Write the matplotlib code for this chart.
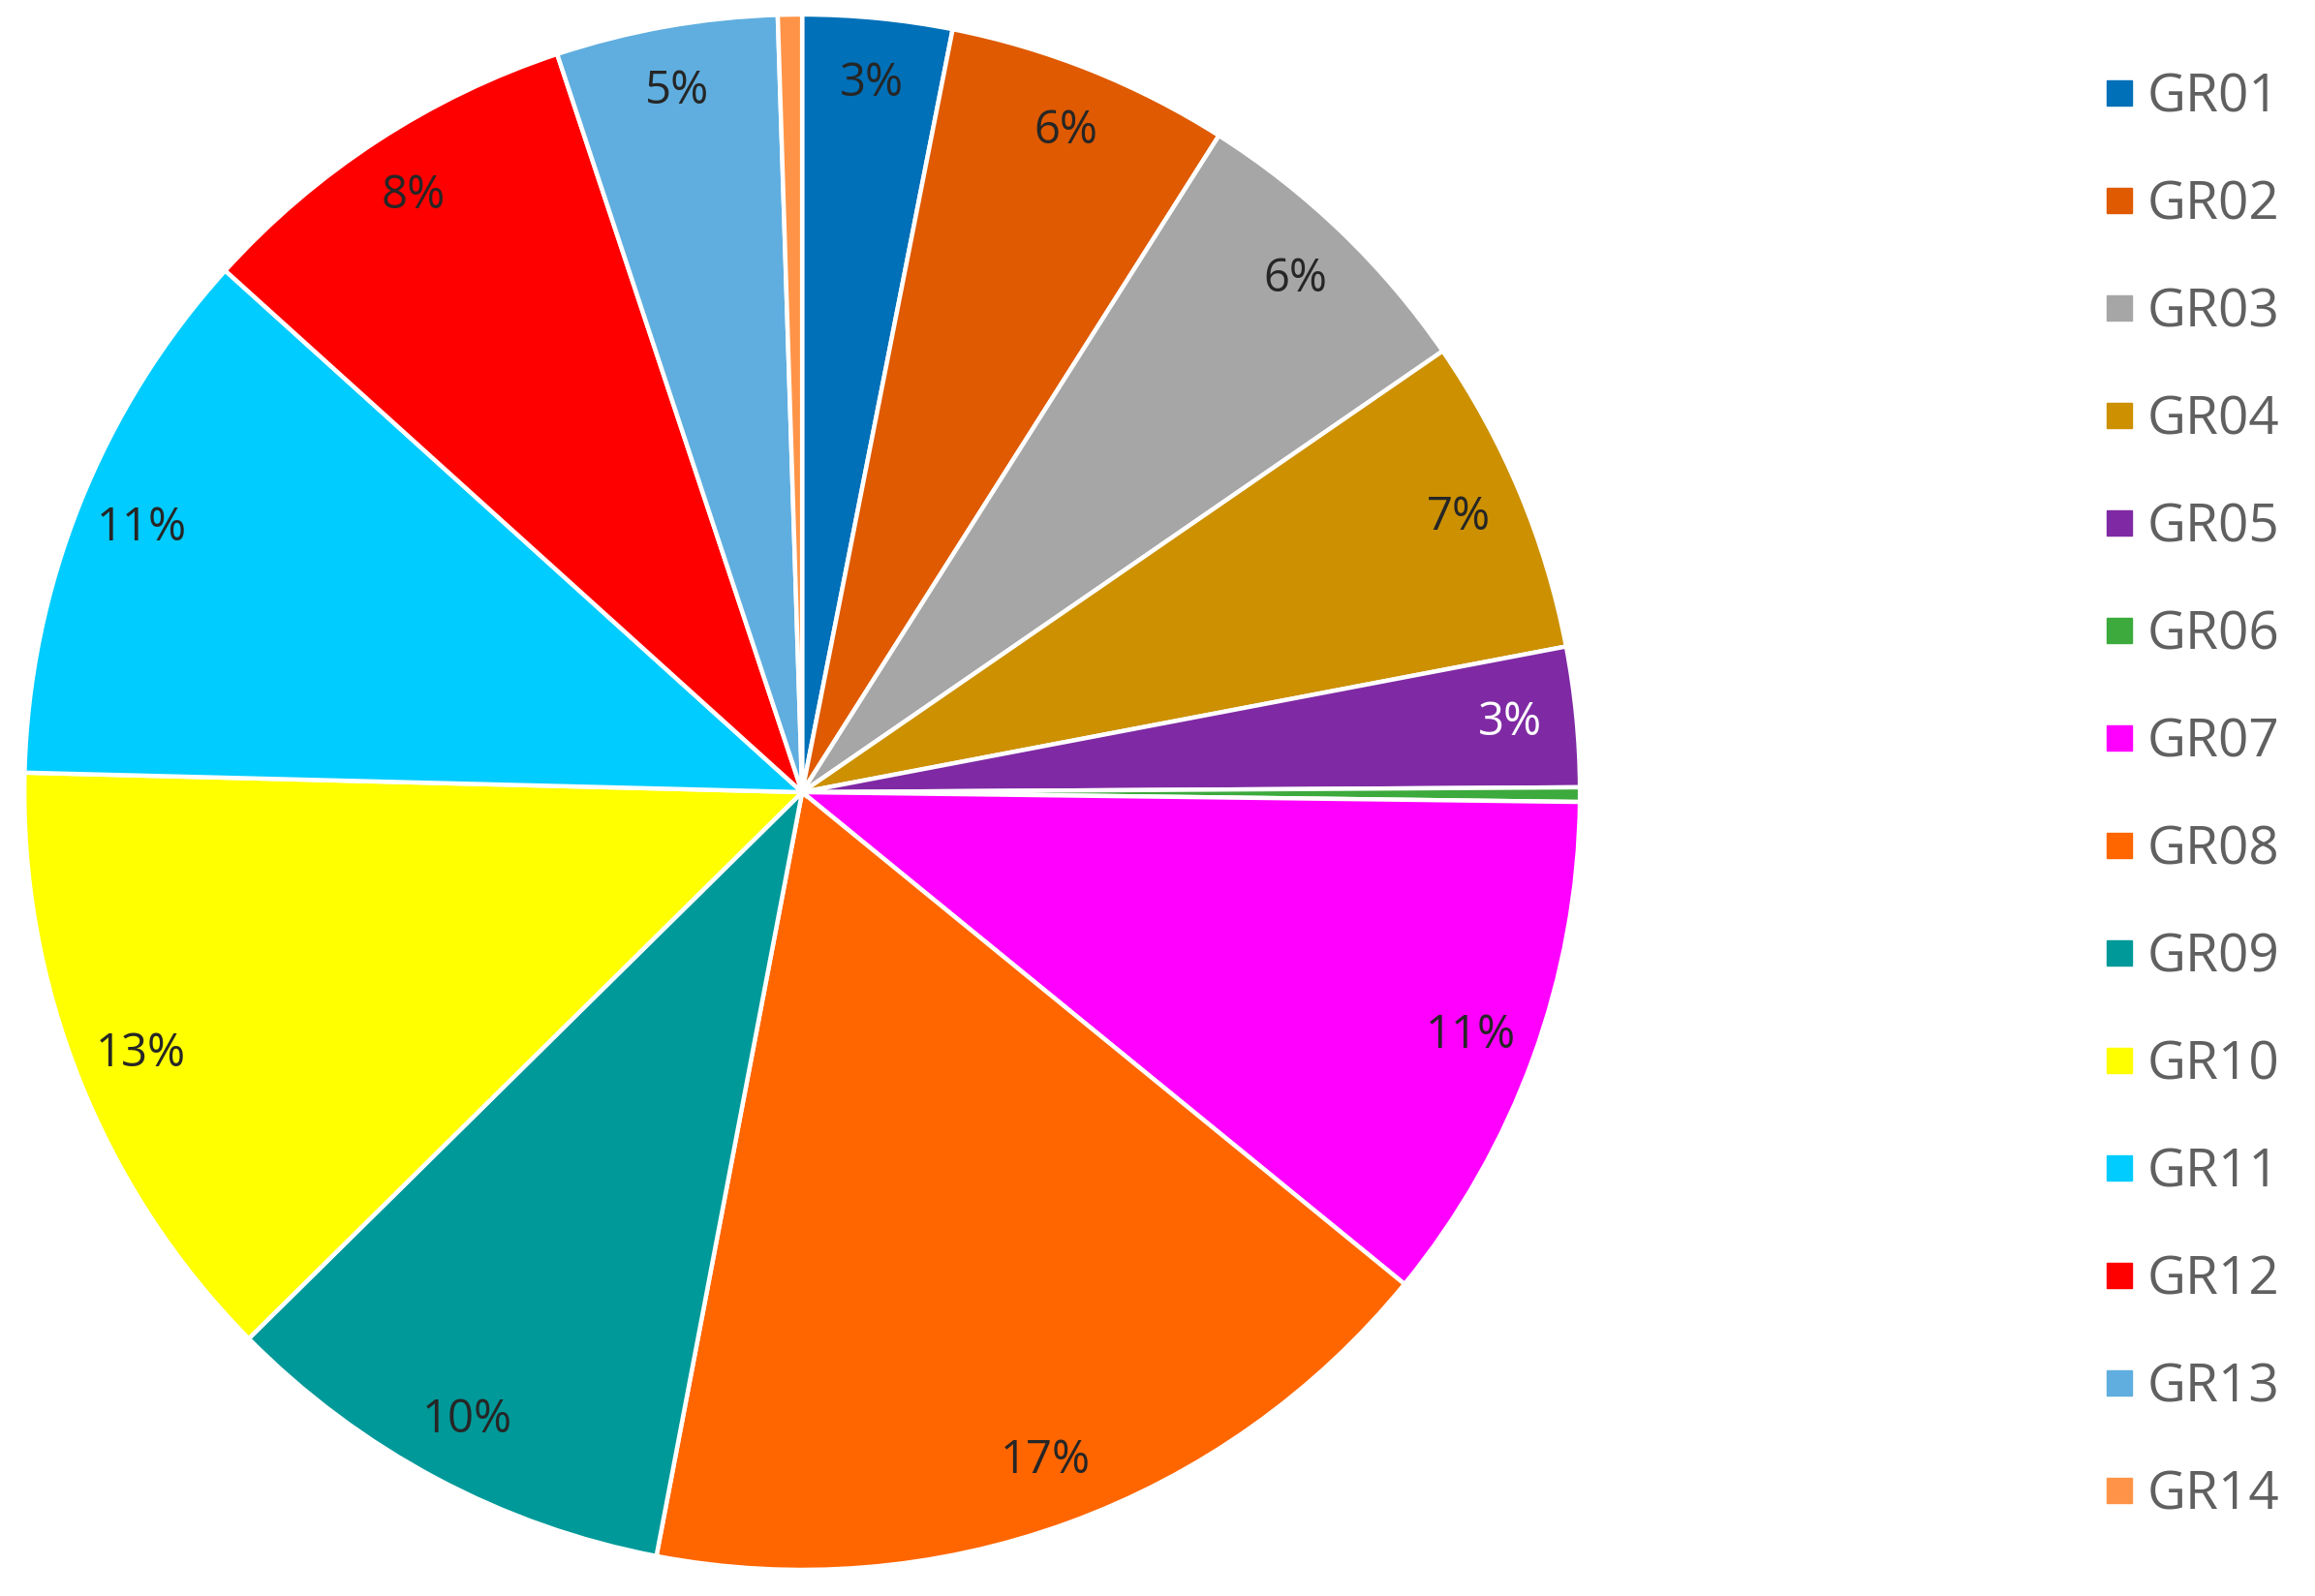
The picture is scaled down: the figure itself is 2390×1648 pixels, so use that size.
"""Pie chart of GR01-GR14 shares with a legend on the right."""

import matplotlib.pyplot as plt
from matplotlib.lines import Line2D

plt.rcParams["font.family"] = ["Open Sans", "DejaVu Sans"]

GROUPS = ["GR01", "GR02", "GR03", "GR04", "GR05", "GR06", "GR07",
          "GR08", "GR09", "GR10", "GR11", "GR12", "GR13", "GR14"]
SHARES = [3.1, 5.9, 6.4, 6.6, 2.9, 0.3, 10.7,
          17.1, 9.6, 12.8, 11.3, 8.2, 4.6, 0.5]
COLORS = ["#0070B8", "#DF5A00", "#A6A6A6", "#CC9000", "#7F2AA4", "#3CAA3C",
          "#FF00FF", "#FF6600", "#009999", "#FFFF00", "#00CCFF", "#FF0000",
          "#5FAEDF", "#FF9448"]
WHITE_LABELS = {"GR05"}

LABEL_COLOR = "#262626"
LEGEND_TEXT = "#606060"


def pct_label(pct):
    return f"{pct:.0f}%" if pct >= 1 else ""


def main() -> None:
    fig = plt.figure(figsize=(23.9, 16.48), dpi=100)
    # axes sized so the pie sits at the left like the reference
    ax = fig.add_axes([0.0105, 0.0164, 0.672, 0.9745])

    wedges, _, autotexts = ax.pie(
        SHARES,
        colors=COLORS,
        startangle=90,
        counterclock=False,
        autopct=pct_label,
        pctdistance=0.915,
        wedgeprops={"edgecolor": "white", "linewidth": 3.2},
        textprops={"fontsize": 34, "color": LABEL_COLOR},
    )
    for name, t in zip(GROUPS, autotexts):
        if name in WHITE_LABELS:
            t.set_color("white")
    ax.set_xlim(-1.0, 1.0)
    ax.set_ylim(-1.0, 1.0)
    ax.set_aspect("equal")

    handles = [
        Line2D([], [], marker="s", linestyle="none", markersize=18.5,
               markerfacecolor=c, markeredgecolor=c)
        for c in COLORS
    ]
    fig.legend(
        handles, GROUPS,
        loc="upper left",
        bbox_to_anchor=(0.897, 0.972),
        frameon=False,
        fontsize=39.5,
        labelcolor=LEGEND_TEXT,
        handlelength=0.6,
        handletextpad=0.22,
        labelspacing=1.02,
        borderpad=0,
    )

    fig.savefig("out.png", dpi=100)


if __name__ == "__main__":
    main()
